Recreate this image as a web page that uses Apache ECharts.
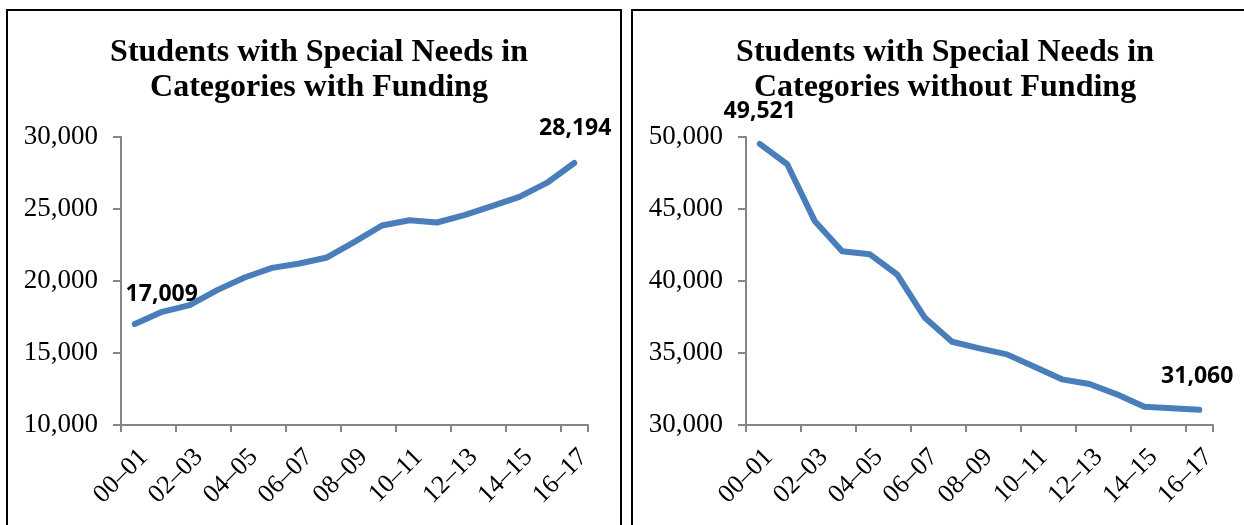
<!DOCTYPE html>
<html>
<head>
<meta charset="utf-8">
<script src="https://cdn.jsdelivr.net/npm/echarts@6/dist/echarts.min.js"></script>
<style>
html,body{margin:0;padding:0;background:#fff;}
#c{width:1244px;height:525px;}
</style>
</head>
<body>
<div id="c"></div>
<script>
const categories = ['00–01','01–02','02–03','03–04','04–05','05–06','06–07','07–08','08–09','09–10','10–11','11–12','12–13','13–14','14–15','15–16','16–17'];
const withFunding = [17009,17860,18325,19365,20246,20912,21217,21634,22716,23854,24221,24062,24568,25193,25838,26809,28194];
const withoutFunding = [49521,48106,44173,42071,41863,40454,37471,35779,35321,34904,34044,33170,32844,32130,31270,31158,31060];
const leftTitle = 'Students with Special Needs in\nCategories with Funding';
const rightTitle = 'Students with Special Needs in\nCategories without Funding';
const leftTicks = {min:10000, max:30000, interval:5000};
const rightTicks = {min:30000, max:50000, interval:5000};

const chart = echarts.init(document.getElementById('c'));
const axisColor = '#868686';
const lineColor = '#4A7EBB';
const serif = '"Liberation Serif", "Times New Roman", serif';
const labelFont = '"Open Sans", "Liberation Sans", sans-serif';

function fmt(v){ return v.toLocaleString('en-US'); }

function makeData(vals, firstOff, lastOff){
  return vals.map((v,i)=>{
    if(i===0 || i===vals.length-1){
      return {value:v, label:{show:true, position:'top', offset: i===0?firstOff:lastOff,
        formatter: p=>fmt(p.value), fontFamily:labelFont, fontWeight:'bold', fontSize:23, color:'#000'}};
    }
    return v;
  });
}

function xAxis(idx){
  return {type:'category', gridIndex:idx, data:categories, boundaryGap:true,
    axisLine:{lineStyle:{color:axisColor,width:2}},
    axisTick:{show:true,length:7,lineStyle:{color:axisColor,width:2}},
    axisLabel:{interval:1, rotate:45, margin:19, verticalAlign:'top', fontFamily:serif, fontSize:26, color:'#000'},
    splitLine:{show:false}};
}
function yAxis(idx, t){
  return {type:'value', gridIndex:idx, min:t.min, max:t.max, interval:t.interval,
    axisLine:{show:true,lineStyle:{color:axisColor,width:2}},
    axisTick:{show:true,length:8,lineStyle:{color:axisColor,width:2}},
    axisLabel:{margin:23, fontFamily:serif, fontSize:27, color:'#000', formatter:v=>fmt(v)},
    splitLine:{show:false}};
}

chart.setOption({
  animation:false,
  backgroundColor:'#fff',
  title:[
    {text:leftTitle, left:314, top:30, textAlign:'center',
      textStyle:{fontFamily:serif, fontWeight:'bold', fontSize:32, lineHeight:35, color:'#000'}},
    {text:rightTitle, left:940, top:30, textAlign:'center',
      textStyle:{fontFamily:serif, fontWeight:'bold', fontSize:32, lineHeight:35, color:'#000'}}
  ],
  graphic:[
    {type:'rect', shape:{x:7, y:10, width:614, height:560}, style:{fill:'none', stroke:'#000', lineWidth:2}, z:100},
    {type:'rect', shape:{x:632, y:10, width:640, height:560}, style:{fill:'none', stroke:'#000', lineWidth:2}, z:100}
  ],
  grid:[
    {left:121, top:137, width:467, height:288},
    {left:746, top:137, width:467, height:288}
  ],
  xAxis:[xAxis(0), xAxis(1)],
  yAxis:[yAxis(0,leftTicks), yAxis(1,rightTicks)],
  series:[
    {type:'line', xAxisIndex:0, yAxisIndex:0, data:makeData(withFunding,[27,-13],[1,-18]),
      symbol:'circle', symbolSize:1, showSymbol:true, itemStyle:{color:lineColor},
      lineStyle:{color:lineColor,width:6,cap:'round',join:'round'}},
    {type:'line', xAxisIndex:1, yAxisIndex:1, data:makeData(withoutFunding,[0,-15],[-2,-16]),
      symbol:'circle', symbolSize:1, showSymbol:true, itemStyle:{color:lineColor},
      lineStyle:{color:lineColor,width:6,cap:'round',join:'round'}}
  ]
});
</script>
</body>
</html>
